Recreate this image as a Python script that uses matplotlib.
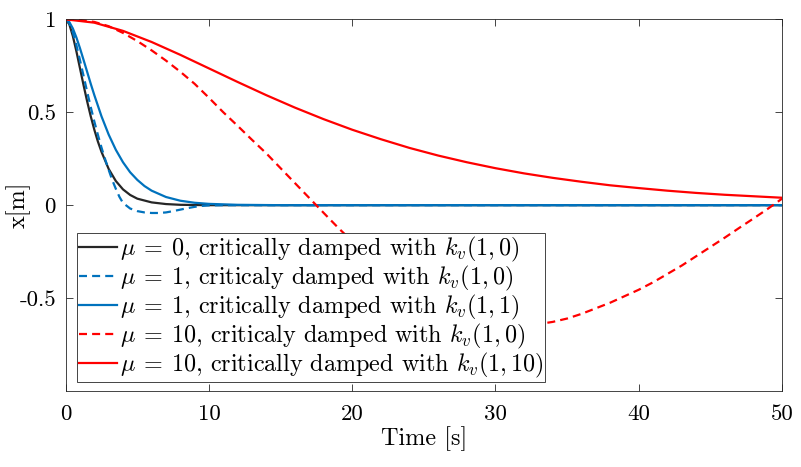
import matplotlib
matplotlib.use("Agg")
import matplotlib.pyplot as plt

plt.rcParams['font.family'] = 'serif'
plt.rcParams['font.serif'] = ['cmr10']
plt.rcParams['mathtext.fontset'] = 'cm'
plt.rcParams['axes.unicode_minus'] = False

# values
t_black = [0, 0.25, 0.5, 0.75, 1.0, 1.25, 1.5, 1.75, 2.0, 2.25, 2.5, 3.0, 3.5, 4.0, 4.5,
           5.0, 6.0, 7.0, 8.0, 10, 50]
x_black = [1.0, 0.974, 0.91, 0.827, 0.736, 0.645, 0.558, 0.478, 0.406, 0.342, 0.287,
           0.195, 0.13, 0.085, 0.055, 0.035, 0.015, 0.006, 0.002, 0.0, 0.0]

t_blue_dash = [0, 0.25, 0.5, 0.75, 1.0, 1.25, 1.5, 1.75, 2.0, 2.25, 2.5, 2.75, 3.0, 3.25,
               3.5, 3.75, 4.0, 4.5, 5.0, 5.5, 6.0, 6.5, 7.0, 7.5, 8.0, 8.5, 9.0, 9.5,
               10, 11, 50]
x_blue_dash = [1.0, 0.98, 0.93, 0.86, 0.78, 0.695, 0.61, 0.528, 0.45, 0.378, 0.31, 0.248,
               0.19, 0.135, 0.088, 0.045, 0.012, -0.018, -0.032, -0.039, -0.042, -0.042,
               -0.039, -0.032, -0.024, -0.016, -0.009, -0.004, -0.001, 0.0, 0.0]

t_blue = [0, 0.25, 0.5, 0.75, 1, 1.25, 1.5, 1.75, 2, 2.5, 3, 3.5, 4, 4.5, 5, 5.5, 6, 7,
          8, 9, 10, 12, 15, 50]
x_blue = [1.0, 0.986, 0.951, 0.902, 0.844, 0.781, 0.717, 0.653, 0.592, 0.478, 0.380,
          0.298, 0.231, 0.177, 0.136, 0.103, 0.078, 0.044, 0.024, 0.013, 0.007, 0.002,
          0.0, 0.0]

t_red_dash = list(range(0, 51))
x_red_dash = [1.0, 0.997, 0.986, 0.963, 0.927, 0.883, 0.833, 0.778, 0.718, 0.653, 0.578,
              0.50, 0.427, 0.352, 0.279, 0.199, 0.119, 0.039, -0.041, -0.12, -0.195,
              -0.265, -0.33, -0.39, -0.445, -0.49, -0.53, -0.566, -0.597, -0.62, -0.635,
              -0.643, -0.645, -0.64, -0.628, -0.61, -0.585, -0.555, -0.525, -0.49,
              -0.455, -0.415, -0.37, -0.325, -0.275, -0.225, -0.175, -0.123, -0.072,
              -0.02, 0.035]

t_red = [0, 2, 4, 6, 8, 10, 12, 14, 16, 18, 20, 22, 24, 26, 28, 30, 32, 34, 36, 38, 40,
         42, 44, 46, 48, 50]
x_red = [1.0, 0.982, 0.938, 0.878, 0.809, 0.736, 0.663, 0.592, 0.525, 0.463, 0.406,
         0.355, 0.308, 0.267, 0.231, 0.199, 0.171, 0.147, 0.126, 0.107, 0.092, 0.078,
         0.066, 0.056, 0.048, 0.040]

labels = [r'$\mu\:=\:0$, critically damped with $k_v(1,0)$',
          r'$\mu\:=\:1$, criticaly damped with $k_v(1,0)$',
          r'$\mu\:=\:1$, critically damped with $k_v(1,1)$',
          r'$\mu\:=\:10$, criticaly damped with $k_v(1,0)$',
          r'$\mu\:=\:10$, critically damped with $k_v(1,10)$']

xticks = [0, 10, 20, 30, 40, 50]
yticks = [-0.5, 0, 0.5, 1]
ytick_labels = ['-0.5', '0', '0.5', '1']

BLUE = '#0072BD'
RED = '#FF0000'
BLACK = '#262626'
LW = 1.6
DASH = (3.6, 2.3)

fig = plt.figure(figsize=(8.01, 4.67), dpi=100)
ax = fig.add_axes([0.0820, 0.1627, 0.8943, 0.7959])

ax.plot(t_black, x_black, color=BLACK, lw=LW, label=labels[0])
ax.plot(t_blue_dash, x_blue_dash, color=BLUE, lw=LW, dashes=DASH, label=labels[1])
ax.plot(t_blue, x_blue, color=BLUE, lw=LW, label=labels[2])
ax.plot(t_red_dash, x_red_dash, color=RED, lw=LW, dashes=DASH, label=labels[3])
ax.plot(t_red, x_red, color=RED, lw=LW, label=labels[4])

ax.set_xlim(0, 50)
ax.set_ylim(-1, 1)
ax.set_xticks(xticks)
ax.set_xticklabels([str(v) for v in xticks])
ax.set_yticks(yticks)
ax.set_yticklabels(ytick_labels)
ax.tick_params(direction='in', length=5.3, width=0.6, top=True, right=True,
               labelsize=16.5, color='#262626')
ax.tick_params(axis='x', pad=9.5)
ax.tick_params(axis='y', pad=7)
for s in ax.spines.values():
    s.set_linewidth(0.6)
    s.set_color('#262626')

ax.set_xlabel('Time [s]', fontsize=17.5, labelpad=2)
ax.set_ylabel('x[m]', fontsize=17.5)
ax.yaxis.set_label_coords(-0.049, 0.5)

leg = ax.legend(loc='lower left', bbox_to_anchor=(0.0162, 0.025), borderaxespad=0,
                fontsize=17.4, fancybox=False, framealpha=1, edgecolor='#262626',
                handlelength=1.6, handletextpad=0.1, borderpad=0.06, labelspacing=0.0)
leg.get_frame().set_linewidth(0.6)

fig.savefig('out.png', dpi=100)
